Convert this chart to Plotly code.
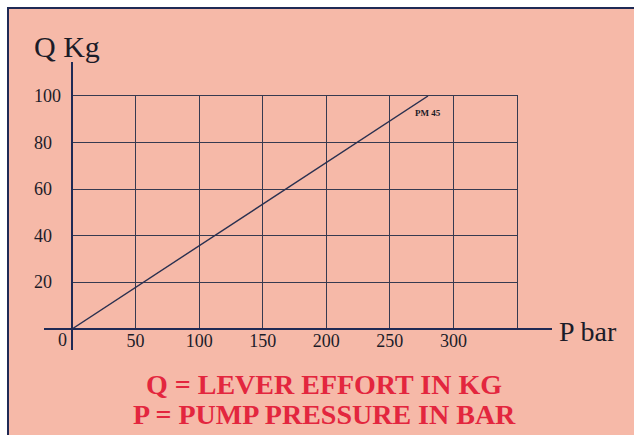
import plotly.graph_objects as go

# ---- data ----
pressure_bar = [0, 280]          # P bar
lever_effort_kg = [0, 100]       # Q Kg
series_label = "PM 45"
x_tick_vals = [0, 50, 100, 150, 200, 250, 300]
x_tick_text = ["", "50", "100", "150", "200", "250", "300"]
y_tick_vals = [20, 40, 60, 80, 100]
y_tick_text = ["20", "40", "60", "80", "100"]
x_range = [0, 350]
y_range = [0, 100]

# ---- layout geometry (pixels) ----
W, H = 634, 435
L, R, T, B = 72, 117, 96, 106
PW, PH = W - L - R, H - T - B


def px(x):
    return (x - L) / PW


def py(y):
    return (H - B - y) / PH


SALMON = "#F6B9A8"
NAVY = "#1f2a55"
GRID = "#363a50"
INK = "#1c1c28"
RED = "#E3263E"
SERIF = "Liberation Serif"

fig = go.Figure()
fig.add_trace(go.Scatter(
    x=pressure_bar, y=lever_effort_kg, mode="lines",
    line=dict(color="#2a3050", width=1.4), showlegend=False, hoverinfo="skip"))

shapes = [
    # background card with navy border
    dict(type="rect", xref="paper", yref="paper", layer="below",
         x0=px(8), x1=px(W + 10), y0=py(H + 10), y1=py(8),
         fillcolor=SALMON, line=dict(color=NAVY, width=2)),
    # extended y axis
    dict(type="line", xref="paper", yref="paper", layer="above",
         x0=px(72), x1=px(72), y0=py(62), y1=py(350),
         line=dict(color=NAVY, width=2)),
    # extended x axis
    dict(type="line", xref="paper", yref="paper", layer="above",
         x0=px(44), x1=px(552), y0=py(329), y1=py(329),
         line=dict(color=NAVY, width=2)),
]

annotations = []
for v, t in zip(y_tick_vals, y_tick_text):
    annotations.append(dict(x=px(32), xref="paper", y=v, yref="y", text=t,
                            showarrow=False, xanchor="left", yanchor="middle",
                            font=dict(family=SERIF, size=18, color=INK)))
annotations += [
    dict(x=0, xref="x", y=py(340), yref="paper", text="0", showarrow=False,
         xanchor="right", yanchor="middle", xshift=-3,
         font=dict(family=SERIF, size=18, color=INK)),
    dict(x=px(32), xref="paper", y=py(46), yref="paper", text="Q Kg",
         showarrow=False, xanchor="left", yanchor="middle",
         font=dict(family=SERIF, size=30, color=INK)),
    dict(x=px(557), xref="paper", y=py(331), yref="paper", text="P bar",
         showarrow=False, xanchor="left", yanchor="middle",
         font=dict(family=SERIF, size=28, color=INK)),
    dict(x=px(428), xref="paper", y=py(113), yref="paper",
         text="<b>" + series_label + "</b>",
         showarrow=False, xanchor="center", yanchor="middle",
         font=dict(family=SERIF, size=9, color=INK)),
    dict(x=px(324), xref="paper", y=py(384), yref="paper",
         text="<b>Q = LEVER EFFORT IN KG</b>", showarrow=False,
         xanchor="center", yanchor="middle",
         font=dict(family=SERIF, size=28, color=RED)),
    dict(x=px(324), xref="paper", y=py(414), yref="paper",
         text="<b>P = PUMP PRESSURE IN BAR</b>", showarrow=False,
         xanchor="center", yanchor="middle",
         font=dict(family=SERIF, size=28, color=RED)),
]

fig.update_layout(
    width=W, height=H,
    margin=dict(l=L, r=R, t=T, b=B, pad=0),
    paper_bgcolor="white",
    plot_bgcolor="rgba(0,0,0,0)",
    shapes=shapes,
    annotations=annotations,
    xaxis=dict(range=x_range, tickmode="array", tickvals=x_tick_vals,
               ticktext=x_tick_text, showgrid=True, gridcolor=GRID,
               gridwidth=1.3, zeroline=False, showline=True, mirror=True,
               linecolor=GRID, linewidth=1.3, ticks="",
               ticklabelstandoff=-5,
               tickfont=dict(family=SERIF, size=18, color=INK),
               fixedrange=True),
    yaxis=dict(range=y_range, tickmode="array", tickvals=y_tick_vals,
               showticklabels=False, showgrid=True, gridcolor=GRID,
               gridwidth=1.3, zeroline=False, showline=True, mirror=True,
               linecolor=GRID, linewidth=1.3, ticks="", fixedrange=True),
    showlegend=False,
)

fig.write_html(
    "out.html",
    config={"displayModeBar": False},
    post_script="document.body.style.margin='0';document.body.style.overflow='hidden';",
)
